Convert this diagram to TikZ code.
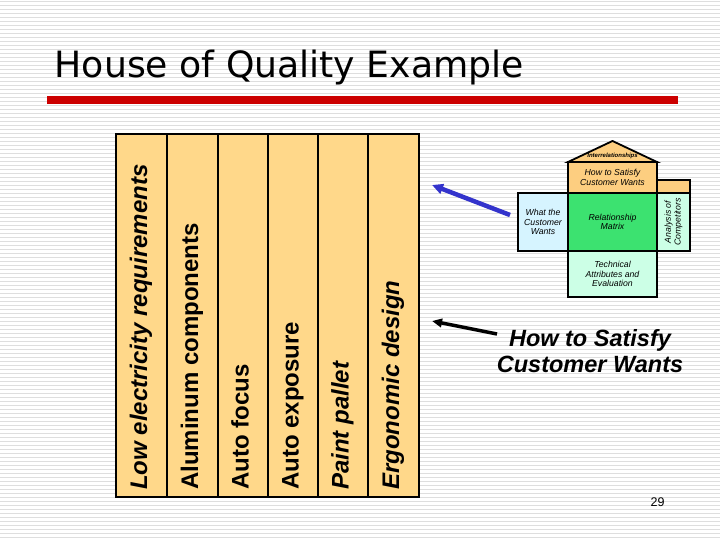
\documentclass[tikz,border=0pt]{standalone}
\usepackage{fontspec}
\setmainfont{Liberation Sans}
\newfontfamily\titlefont{DejaVu Sans}
\usetikzlibrary{arrows.meta}
\definecolor{stripegray}{RGB}{222,222,222}
\definecolor{redbar}{RGB}{204,0,0}
\definecolor{tabyellow}{RGB}{255,216,138}
\definecolor{houseorange}{RGB}{253,206,128}
\definecolor{cyanlight}{RGB}{214,244,255}
\definecolor{greenmatrix}{RGB}{60,226,112}
\definecolor{mintlight}{RGB}{204,255,230}
\definecolor{arrowblue}{RGB}{51,51,204}
\tikzset{
  stripeline/.style={draw=stripegray, line width=1pt},
  colbox/.style={draw=black, line width=1.8pt, fill=tabyellow},
  coltext/.style={rotate=90, anchor=base west, inner sep=0pt,
    font=\bfseries\itshape\fontsize{24}{28}\selectfont},
  coltextup/.style={coltext, font=\bfseries\upshape\fontsize{24}{28}\selectfont},
  hbox/.style={draw=black, line width=1.8pt, inner sep=0pt, outer sep=0pt,
    align=center, font=\itshape\fontsize{8.7}{9.7}\selectfont},
  bluearrow/.style={draw=arrowblue, line width=4.5pt,
    -{Triangle[length=11pt,width=10pt]}},
  blackarrow/.style={draw=black, line width=3.5pt,
    -{Triangle[length=10pt,width=8.5pt]}}
}
\begin{document}
\begin{tikzpicture}[x=1pt,y=-1pt]
\useasboundingbox (0,0) rectangle (720,540);
\fill[white] (0,0) rectangle (720,540);
\foreach \i in {0,...,134} {\draw[stripeline] (0,{\i*4+1.5}) -- (720,{\i*4+1.5});}

% title and bar
\node[anchor=base west, inner sep=0pt, font=\titlefont\fontsize{36.2}{40}\selectfont] (title) at (54.5,78) {House of Quality Example};
\fill[redbar] (47,96) rectangle (678,104.5);

% table of technical attributes
\foreach \xa/\xb in {116/167,167/218,218/268,268/318,318/368,368/419}
  {\draw[colbox] (\xa,134) rectangle (\xb,497);}
\node[coltext] (t1) at (147,490) {Low electricity requirements};
\node[coltextup] (t2) at (198,490) {Aluminum components};
\node[coltextup] (t3) at (248.5,490) {Auto focus};
\node[coltextup] (t4) at (298.5,490) {Auto exposure};
\node[coltext] (t5) at (348.5,490) {Paint pallet};
\node[coltext] (t6) at (399,490) {Ergonomic design};

% house
\draw[black, line width=1.8pt, fill=houseorange] (568,162) -- (612.5,141) -- (657,162) -- cycle;
\node[inner sep=0pt, font=\bfseries\itshape\fontsize{6}{7}\selectfont] (interrel) at (612.5,156) {Interrelationships};
\node[hbox, fill=houseorange, minimum width=89pt, minimum height=31pt] (howsmall) at (612.5,177.5) {How to Satisfy\\Customer Wants};
\node[hbox, fill=houseorange, minimum width=33pt, minimum height=13pt] (anatop) at (673.5,186.5) {};
\node[hbox, fill=cyanlight, minimum width=50pt, minimum height=58pt] (what) at (543,222) {What the\\Customer\\Wants};
\node[hbox, fill=greenmatrix, minimum width=89pt, minimum height=58pt] (rel) at (612.5,222) {Relationship\\Matrix};
\node[hbox, fill=mintlight, rotate=90, minimum width=58pt, minimum height=33pt] (anal) at (673.5,222) {Analysis of\\Competitors};
\node[hbox, fill=mintlight, minimum width=89pt, minimum height=46pt] (tech) at (612.5,274) {Technical\\Attributes and\\Evaluation};

% big label
\node[inner sep=0pt, align=center, font=\bfseries\itshape\fontsize{23.5}{26}\selectfont] (howbig) at (590,351.5) {How to Satisfy\\Customer Wants};

% arrows
\coordinate (bluetail) at (510,215);
\coordinate (bluetip) at (432,185);
\draw[bluearrow] (bluetail) -- (bluetip);
\coordinate (blacktail) at (497,334);
\coordinate (blacktip) at (432,321);
\draw[blackarrow] (blacktail) -- (blacktip);

% page number
\node[inner sep=0pt, font=\fontsize{12.5}{14}\selectfont] (pnum) at (657.5,502.5) {29};
\end{tikzpicture}
\end{document}
